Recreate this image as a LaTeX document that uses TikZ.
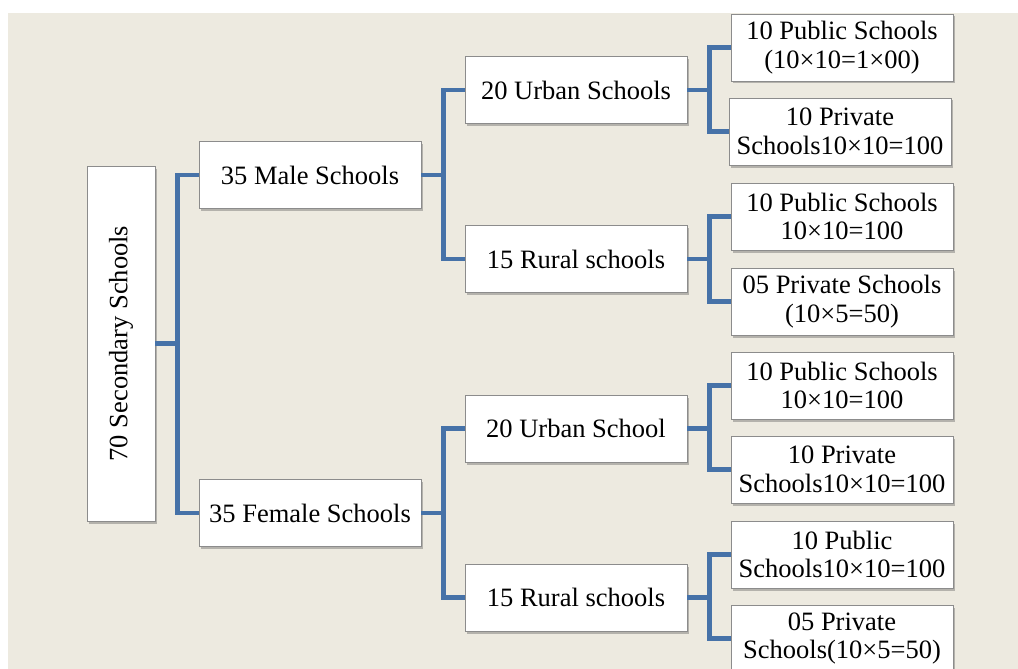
\documentclass[tikz,border=0pt]{standalone}
\usepackage{fontspec}
\setmainfont{Liberation Serif}
\usetikzlibrary{shadows}
\definecolor{bgbeige}{RGB}{237,234,224}
\definecolor{linkblue}{RGB}{70,114,168}
\definecolor{boxgray}{RGB}{140,140,140}
\begin{document}
\begin{tikzpicture}[x=1pt,y=-1pt,
  box/.style={draw=boxgray, line width=0.8pt, fill=white, minimum width=222pt, minimum height=67pt,
    align=center, inner sep=2pt, font=\fontsize{26.5}{28.5}\selectfont,
    drop shadow={shadow xshift=2pt, shadow yshift=-2.5pt, opacity=0.35, fill=black!70}},
  rootbox/.style={box, minimum width=68pt, minimum height=355pt},
  link/.style={draw=linkblue, line width=4.2pt}]
\useasboundingbox (0,0) rectangle (1018,669);
\fill[bgbeige] (8,13) rectangle (1018,680);
% root
\node[rootbox] (root) at (121,343.5) {};
\node[rotate=90, font=\fontsize{26.5}{28.5}\selectfont] (roottext) at (root.center) {70 Secondary Schools};
% level 1
\node[box] (male) at (310,175) {35 Male Schools};
\node[box] (female) at (310,513) {35 Female Schools};
% level 2
\node[box] (murban) at (576,90) {20 Urban Schools};
\node[box] (mrural) at (576,259) {15 Rural schools};
\node[box] (furban) at (576,428.5) {20 Urban School};
\node[box] (frural) at (576,597.5) {15 Rural schools};
% leaves
\node[box] (l1) at (842,47.5) {10 Public Schools\\(10×10=1×00)};
\node[box] (l2) at (840,131.5) {10 Private\\Schools10×10=100};
\node[box] (l3) at (842,216.5) {10 Public Schools\\10×10=100};
\node[box] (l4) at (842,301.5) {05 Private Schools\\(10×5=50)};
\node[box] (l5) at (842,385.5) {10 Public Schools\\10×10=100};
\node[box] (l6) at (842,469.5) {10 Private\\Schools10×10=100};
\node[box] (l7) at (842,554.5) {10 Public\\Schools10×10=100};
\node[box] (l8) at (842,638.5) {05 Private\\Schools(10×5=50)};
% connectors
\draw[link] (root.east) -- ++(22,0) |- (male.west);
\draw[link] (root.east) -- ++(22,0) |- (female.west);
\draw[link] (male.east) -- ++(22,0) |- (murban.west);
\draw[link] (male.east) -- ++(22,0) |- (mrural.west);
\draw[link] (female.east) -- ++(22,0) |- (furban.west);
\draw[link] (female.east) -- ++(22,0) |- (frural.west);
\draw[link] (murban.east) -- ++(22,0) |- (l1.west);
\draw[link] (murban.east) -- ++(22,0) |- (l2.west);
\draw[link] (mrural.east) -- ++(22,0) |- (l3.west);
\draw[link] (mrural.east) -- ++(22,0) |- (l4.west);
\draw[link] (furban.east) -- ++(22,0) |- (l5.west);
\draw[link] (furban.east) -- ++(22,0) |- (l6.west);
\draw[link] (frural.east) -- ++(22,0) |- (l7.west);
\draw[link] (frural.east) -- ++(22,0) |- (l8.west);
\end{tikzpicture}
\end{document}
